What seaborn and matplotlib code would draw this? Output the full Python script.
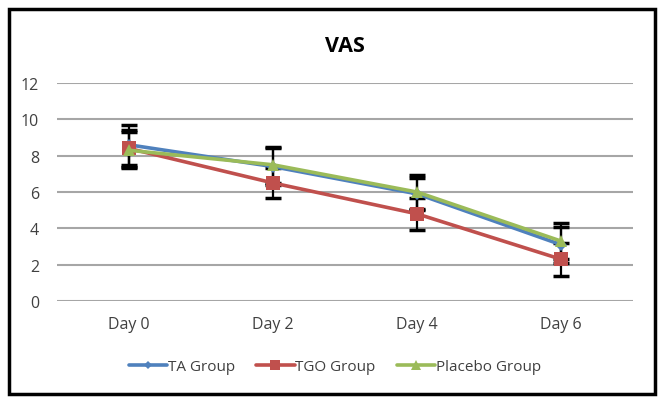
import pandas as pd
import matplotlib
matplotlib.use("Agg")
import matplotlib.pyplot as plt
import seaborn as sns
from matplotlib.patches import Rectangle

days = ["Day 0", "Day 2", "Day 4", "Day 6"]
groups = ["TA Group", "TGO Group", "Placebo Group"]
ta_vas = [8.6, 7.4, 5.9, 3.1]
tgo_vas = [8.4, 6.5, 4.8, 2.3]
placebo_vas = [8.3, 7.5, 6.0, 3.3]
ta_err = [1.1, 1.0, 0.9, 1.0]
tgo_err = [1.0, 0.8, 0.9, 0.9]
placebo_err = [1.0, 1.0, 0.95, 1.0]

colors = {"TA Group": "#4F81BD", "TGO Group": "#C0504D", "Placebo Group": "#9BBB59"}
markers = {"TA Group": "D", "TGO Group": "s", "Placebo Group": "^"}
sizes = {"TA Group": 6, "TGO Group": 10, "Placebo Group": 9}

df = pd.DataFrame({
    "day": days * 3,
    "x": list(range(len(days))) * 3,
    "group": [g for g in groups for _ in days],
    "vas": ta_vas + tgo_vas + placebo_vas,
    "err": ta_err + tgo_err + placebo_err,
})

sns.set_theme(style="white")
plt.rcParams["font.family"] = ["Open Sans", "DejaVu Sans"]

fig = plt.figure(figsize=(6.7, 4.06), dpi=100)
ax = fig.add_axes([0.085, 0.256, 0.86, 0.537])

# error bars first so lines sit on top
for g in groups:
    sub = df[df["group"] == g]
    ax.errorbar(sub["x"], sub["vas"], yerr=sub["err"], fmt="none",
                ecolor="black", elinewidth=1.6, capsize=6, capthick=2.5, zorder=2)

n_before = len(ax.lines)
sns.lineplot(data=df, x="x", y="vas", hue="group", style="group",
             palette=colors, markers=markers, dashes=False, linewidth=2.6,
             markeredgewidth=0, ax=ax, zorder=3, legend=False)
for line, g in zip(ax.lines[n_before:], groups):
    line.set_markersize(sizes[g])

ax.set_xlim(-0.5, 3.5)
ax.set_ylim(0, 12)
ax.set_yticks(range(0, 13, 2))
ax.set_xticks(range(len(days)))
ax.set_xticklabels(days)
ax.set_xlabel("")
ax.set_ylabel("")
ax.yaxis.grid(True, color="#A6A6A6", linewidth=1.5)
ax.set_axisbelow(True)
for s in ax.spines.values():
    s.set_visible(False)
ax.tick_params(axis="both", length=0, labelsize=11.5, labelcolor="#404040")
ax.tick_params(axis="x", pad=11)
ax.tick_params(axis="y", pad=13)

fig.text(0.515, 0.885, "VAS", ha="center", va="center", fontsize=15.5,
         fontweight="bold", color="black")

handles = [plt.Line2D([], [], color=colors[g], marker=markers[g], markersize=sizes[g] * 0.75,
                      linewidth=2.6, markeredgewidth=0) for g in groups]
fig.legend(handles, groups, loc="center", bbox_to_anchor=(0.50, 0.095), ncol=3,
           frameon=False, fontsize=11, handlelength=2.5, handletextpad=0.05,
           columnspacing=1.4, labelcolor="#404040")

fig.patches.append(Rectangle((0.013, 0.027), 0.965, 0.948, transform=fig.transFigure,
                             fill=False, edgecolor="black", linewidth=2.5))

fig.savefig("out.png", dpi=100, facecolor="white")
